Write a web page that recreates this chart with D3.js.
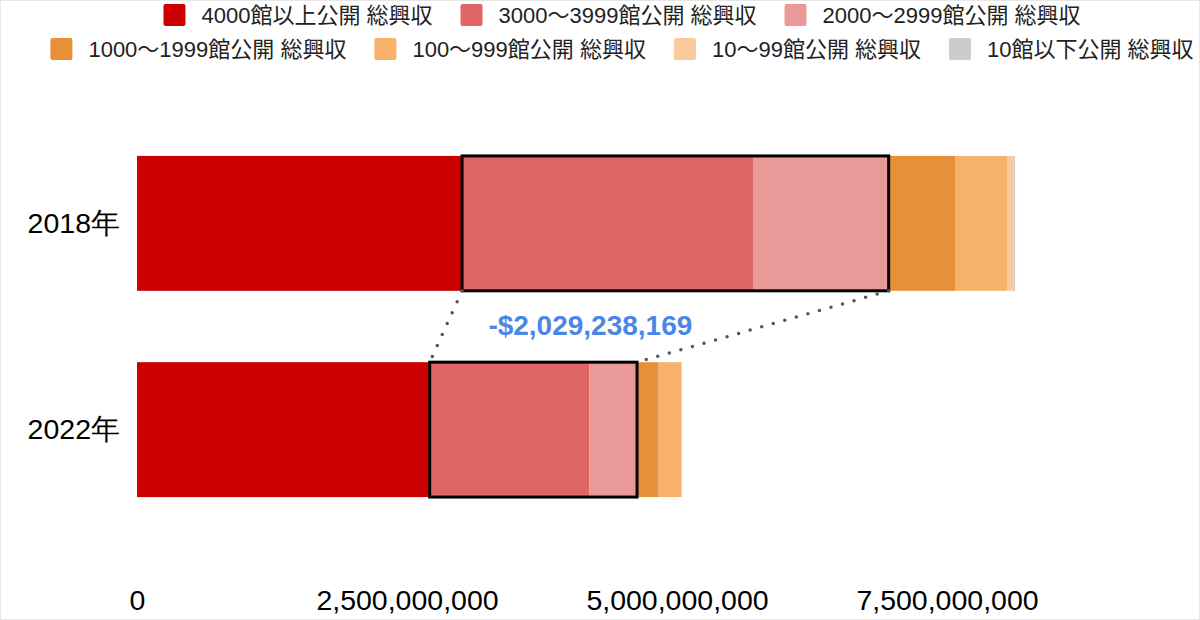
<!DOCTYPE html>
<html>
<head>
<meta charset="utf-8">
<script src="https://cdn.jsdelivr.net/npm/d3@7"></script>
<style>
  body { margin: 0; background: #fff; }
  svg { display: block; font-family: "Liberation Sans", Arial, "Noto Sans CJK JP", sans-serif; }
</style>
</head>
<body>
<svg width="1200" height="620"></svg>
<script>
// data
const years = ['2018年', '2022年'];
const seriesNames = [
  '4000館以上公開 総興収',
  '3000〜3999館公開 総興収',
  '2000〜2999館公開 総興収',
  '1000〜1999館公開 総興収',
  '100〜999館公開 総興収',
  '10〜99館公開 総興収',
  '10館以下公開 総興収'
];
const colors = ['#cc0000', '#e06666', '#ea9999', '#e69138', '#f6b26b', '#f9cb9c', '#cccccc'];
const values2018 = [3.01e9, 2.70e9, 1.25e9, 0.62e9, 0.475e9, 0.06e9, 0.015e9];
const values2022 = [2.71e9, 1.48e9, 0.44e9, 0.20e9, 0.21e9, 0.006e9, 0.001e9];
const xTicks = [0, 2.5e9, 5e9, 7.5e9];
// series inside the black boxes
const boxedSeries = [1, 2];
const diffLabel = '-$2,029,238,169';

const svg = d3.select('svg');
const width = +svg.attr('width');
const height = +svg.attr('height');

// faint frame like the screenshot
svg.append('rect')
  .attr('x', 0.5).attr('y', 0.5)
  .attr('width', width - 1).attr('height', height - 1)
  .attr('fill', 'none')
  .attr('stroke', '#e6e6e6');

const table = [values2018, values2022].map((vals, i) => {
  const row = {year: years[i]};
  seriesNames.forEach((s, j) => row[s] = vals[j]);
  return row;
});

const stacked = d3.stack().keys(seriesNames)(table);

const xScale = d3.scaleLinear()
  .domain([0, 7.5e9])
  .range([137, 947]);

const yScale = d3.scaleBand()
  .domain(years)
  .range([120.25, 532.75])
  .paddingInner(0.346)
  .paddingOuter(0.173);

const g = svg.append('g');

g.selectAll('g.series').data(stacked)
  .enter().append('g')
    .attr('class', 'series')
    .attr('fill', (d, i) => colors[i])
  .selectAll('rect').data(d => d)
  .enter().append('rect')
    .attr('x', d => xScale(d[0]))
    .attr('y', d => yScale(d.data.year))
    .attr('width', d => xScale(d[1]) - xScale(d[0]))
    .attr('height', yScale.bandwidth());

// boxes around the 2000-3999 segments
const boxes = years.map((y, i) => {
  const x0 = xScale(stacked[boxedSeries[0]][i][0]);
  const x1 = xScale(stacked[boxedSeries[boxedSeries.length - 1]][i][1]);
  return {x0, x1, y0: yScale(y), y1: yScale(y) + yScale.bandwidth()};
});

g.selectAll('rect.box').data(boxes)
  .enter().append('rect')
    .attr('class', 'box')
    .attr('x', d => d.x0)
    .attr('y', d => d.y0)
    .attr('width', d => d.x1 - d.x0)
    .attr('height', d => d.y1 - d.y0)
    .attr('fill', 'none')
    .attr('stroke', '#000')
    .attr('stroke-width', 3);

// dotted connectors
const links = [
  [boxes[0].x0, boxes[0].y1, boxes[1].x0, boxes[1].y0],
  [boxes[0].x1, boxes[0].y1, boxes[1].x1, boxes[1].y0]
];
g.selectAll('line.link').data(links)
  .enter().append('line')
    .attr('class', 'link')
    .attr('x1', d => d[0]).attr('y1', d => d[1])
    .attr('x2', d => d[2]).attr('y2', d => d[3])
    .attr('stroke', '#555')
    .attr('stroke-width', 3.5)
    .attr('stroke-linecap', 'round')
    .attr('stroke-dasharray', '0 12');

g.append('text')
  .attr('x', (boxes[0].x0 + boxes[0].x1 + boxes[1].x0 + boxes[1].x1) / 4 - 14)
  .attr('y', (boxes[0].y1 + boxes[1].y0) / 2 + 8)
  .attr('text-anchor', 'middle')
  .attr('font-size', 28)
  .attr('font-weight', 'bold')
  .attr('fill', '#4a86e8')
  .text(diffLabel);

// axes
const xAxis = d3.axisBottom(xScale)
  .tickValues(xTicks)
  .tickFormat(d3.format(','))
  .tickSize(0)
  .tickPadding(0);

const xAxisG = svg.append('g')
  .attr('transform', 'translate(0, 590)')
  .call(xAxis);
xAxisG.select('.domain').remove();
xAxisG.selectAll('text')
  .attr('font-size', 28.5)
  .attr('font-family', null)
  .attr('fill', '#000')
  .attr('dy', '0.71em');

const yAxis = d3.axisLeft(yScale)
  .tickSize(0)
  .tickPadding(0);

const yAxisG = svg.append('g')
  .attr('transform', 'translate(120, 0)')
  .call(yAxis);
yAxisG.select('.domain').remove();
yAxisG.selectAll('text')
  .attr('font-size', 28.5)
  .attr('font-family', null)
  .attr('fill', '#000');

// legend, two centred rows
const legendRows = [[0, 1, 2], [3, 4, 5, 6]];
const rowBaselines = [23, 57];
const swatch = 22;
const swatchGap = 16;
const itemGap = 28;
const legendCenter = 622;

legendRows.forEach((row, r) => {
  const lg = svg.append('g');
  let x = 0;
  row.forEach(i => {
    const item = lg.append('g').attr('transform', `translate(${x}, 0)`);
    item.append('rect')
      .attr('x', 0)
      .attr('y', rowBaselines[r] - 19)
      .attr('width', swatch)
      .attr('height', swatch)
      .attr('rx', 2)
      .attr('fill', colors[i]);
    const t = item.append('text')
      .attr('x', swatch + swatchGap)
      .attr('y', rowBaselines[r])
      .attr('font-size', 22)
      .attr('fill', '#222')
      .text(seriesNames[i]);
    x += swatch + swatchGap + t.node().getComputedTextLength() + itemGap;
  });
  const total = x - itemGap;
  lg.attr('transform', `translate(${legendCenter - total / 2}, 0)`);
});
</script>
</body>
</html>
